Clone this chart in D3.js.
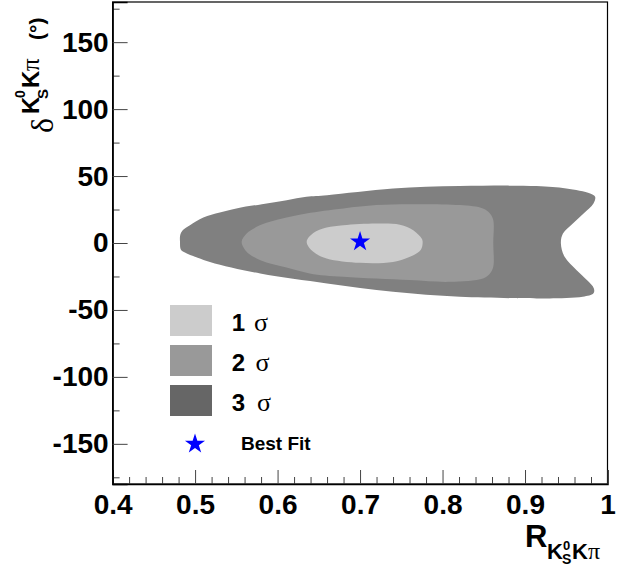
<!DOCTYPE html>
<html>
<head>
<meta charset="utf-8">
<script src="https://cdn.jsdelivr.net/npm/d3@7"></script>
<style>
body { margin: 0; background: #fff; }
svg { display: block; }
text { font-family: "Liberation Sans", Arial, sans-serif; }
text.greek { font-family: "Liberation Serif", "Times New Roman", serif; }
</style>
</head>
<body>
<div id="my-chart"></div>
<script>
var width = 634;
var height = 569;

// contour outlines, [R, delta]
var contour3 = [
  [0.4817, 0.9], [0.482, 5.9], [0.485, 9.6], [0.4938, 13.3], [0.510, 19.1], [0.530, 22.8],
  [0.550, 25.8], [0.581, 29.0], [0.611, 32.0], [0.635, 34.5], [0.660, 35.7], [0.740, 40.7],
  [0.821, 42.5], [0.914, 42.5], [0.950, 40.7], [0.979, 37.0], [0.985, 34.5], [0.983, 29.5],
  [0.971, 22.1], [0.958, 14.6], [0.946, 7.1], [0.9435, -0.3], [0.948, -10.3], [0.9626, -20.3],
  [0.975, -27.7], [0.9835, -33.9], [0.983, -37.6], [0.970, -40.2], [0.930, -41.4], [0.914, -41.4],
  [0.821, -40.2], [0.740, -36.5], [0.660, -30.2], [0.579, -22.8], [0.518, -14.1], [0.490, -7.8],
  [0.483, -5.3]
];
var contour2 = [
  [0.5565, 0.9], [0.5625, 7.1], [0.5747, 12.1], [0.5908, 15.8], [0.611, 19.1], [0.635, 22.1],
  [0.680, 25.8], [0.720, 28.3], [0.7605, 29.0], [0.821, 28.3], [0.849, 25.8], [0.8575, 22.1],
  [0.8615, 17.1], [0.8615, 0], [0.8615, -17.8], [0.8575, -22.7], [0.849, -26.5], [0.809, -29.0],
  [0.7605, -27.7], [0.680, -25.3], [0.639, -22.7], [0.611, -18.3], [0.591, -15.3], [0.5747, -11.5],
  [0.5625, -6.6]
];
var contour1 = [
  [0.6353, 0.9], [0.6433, 7.4], [0.6595, 11.5], [0.6796, 13.3], [0.720, 14.6], [0.7484, 13.7],
  [0.7645, 9.6], [0.7747, 3.4], [0.7759, 0.9], [0.7735, -5.3], [0.7605, -10.3], [0.740, -14.1],
  [0.700, -14.8], [0.6595, -11.5], [0.6433, -6.6]
];
var bestFit = [0.70, 1];

var xTicks = [0.4, 0.5, 0.6, 0.7, 0.8, 0.9, 1.0];
var xTickLabels = ["0.4", "0.5", "0.6", "0.7", "0.8", "0.9", "1"];
var yTicks = [-150, -100, -50, 0, 50, 100, 150];
var legendLabels = ["1", "2", "3"];

var contourColors = ["#cccccc", "#999999", "#808080"];
var legendColors = ["#cccccc", "#999999", "#666666"];

var svg = d3.select("div#my-chart").append("svg")
  .attr("width", width)
  .attr("height", height);

var x = d3.scaleLinear().domain([0.4, 1]).range([112.6, 607.5]);
var y = d3.scaleLinear().domain([-180, 180]).range([484, 2]);

var line = d3.line()
  .x(function (d) { return x(d[0]); })
  .y(function (d) { return y(d[1]); })
  .curve(d3.curveCatmullRomClosed.alpha(0.5));

svg.selectAll("path.contour")
  .data([contour3, contour2, contour1])
  .enter()
  .append("path")
  .attr("class", "contour")
  .attr("d", line)
  .attr("fill", function (d, i) { return contourColors[2 - i]; });

var star = d3.symbol().type(d3.symbolStar).size(125);
svg.append("path")
  .attr("d", star)
  .attr("transform", "translate(" + x(bestFit[0]) + "," + y(bestFit[1]) + ")")
  .attr("fill", "#0000ff");

// frame
svg.append("rect")
  .attr("x", x(0.4)).attr("y", y(180))
  .attr("width", x(1) - x(0.4)).attr("height", y(-180) - y(180))
  .attr("fill", "none").attr("stroke", "#000").attr("stroke-width", 1.2);

// x axis
var xMinor = d3.range(0.42, 1.0, 0.02).filter(function (v) { return Math.abs(v * 10 - Math.round(v * 10)) > 0.01; });
svg.append("g")
  .attr("transform", "translate(0," + y(-180) + ")")
  .call(d3.axisBottom(x).tickValues(xMinor).tickSize(-7).tickFormat(""))
  .call(function (g) { g.select(".domain").remove(); });
var xAxis = svg.append("g")
  .attr("class", "xaxis axis")
  .attr("transform", "translate(0," + y(-180) + ")")
  .call(d3.axisBottom(x).tickValues(xTicks).tickSize(-14).tickPadding(10)
    .tickFormat(function (d, i) { return xTickLabels[i]; }));
xAxis.selectAll("text")
  .style("font-size", "28px").style("font-weight", "bold").attr("fill", "#000");

// y axis
var yMinor = [-175, -125, -75, -25, 25, 75, 125, 175];
svg.append("g")
  .attr("transform", "translate(" + x(0.4) + ",0)")
  .call(d3.axisLeft(y).tickValues(yMinor).tickSize(-7).tickFormat(""))
  .call(function (g) { g.select(".domain").remove(); });
var yAxis = svg.append("g")
  .attr("class", "axis")
  .attr("transform", "translate(" + x(0.4) + ",0)")
  .call(d3.axisLeft(y).tickValues(yTicks).tickSize(-15).tickPadding(4)
    .tickFormat(function (d) { return String(d); }));
yAxis.selectAll("text")
  .style("font-size", "28px").style("font-weight", "bold").attr("fill", "#000");

svg.selectAll(".tick line").attr("stroke", "#444");
svg.selectAll(".domain").attr("stroke", "#000").attr("stroke-width", 1.5);

// x title: R_{K^0_S K pi}
var xt = svg.append("g").attr("transform", "translate(525,547)");
xt.append("text").text("R").style("font-size", "31px").style("font-weight", "bold");
xt.append("text").attr("x", 22).attr("y", 12).text("K").style("font-size", "22px").style("font-weight", "bold");
xt.append("text").attr("x", 38).attr("y", 3).text("0").style("font-size", "13px").style("font-weight", "bold");
xt.append("text").attr("x", 37).attr("y", 17).text("S").style("font-size", "14px").style("font-weight", "bold");
xt.append("text").attr("x", 47).attr("y", 12).text("K").style("font-size", "22px").style("font-weight", "bold");
xt.append("text").attr("class", "greek").attr("x", 63).attr("y", 12).text("\u03c0").style("font-size", "24px");

// y title: delta^{K^0_S K pi} (deg)
var yt = svg.append("g").attr("transform", "translate(53,133) rotate(-90)");
yt.append("text").attr("class", "greek").text("\u03b4").style("font-size", "32px");
yt.append("text").attr("x", 19).attr("y", -14).text("K").style("font-size", "24px").style("font-weight", "bold");
yt.append("text").attr("x", 35).attr("y", -28).text("0").style("font-size", "14px").style("font-weight", "bold");
yt.append("text").attr("x", 34).attr("y", -5).text("S").style("font-size", "15px").style("font-weight", "bold");
yt.append("text").attr("x", 45).attr("y", -14).text("K").style("font-size", "24px").style("font-weight", "bold");
yt.append("text").attr("class", "greek").attr("x", 62).attr("y", -14).text("\u03c0").style("font-size", "25px");
yt.append("text").attr("x", 93).attr("y", -9).text("(\u00b0)").style("font-size", "21px").style("font-weight", "bold");

// legend
var legend = svg.append("g");
legend.selectAll("rect")
  .data(legendLabels)
  .enter()
  .append("rect")
  .attr("x", 170)
  .attr("y", function (d, i) { return 305 + i * 40; })
  .attr("width", 42)
  .attr("height", 31)
  .attr("fill", function (d, i) { return legendColors[i]; });
legend.selectAll("text.lab")
  .data(legendLabels)
  .enter()
  .append("text")
  .attr("class", "lab")
  .attr("x", 245)
  .attr("y", function (d, i) { return 331 + i * 40; })
  .attr("text-anchor", "end")
  .style("font-size", "24px").style("font-weight", "bold")
  .text(function (d) { return d; });
legend.selectAll("text.sig")
  .data(legendLabels)
  .enter()
  .append("text")
  .attr("class", "greek")
  .attr("x", function (d, i) { return 254 + i * 1.5; })
  .attr("y", function (d, i) { return 331 + i * 40; })
  .style("font-size", "26px")
  .text("\u03c3");
legend.append("path")
  .attr("d", star)
  .attr("transform", "translate(195,444)")
  .attr("fill", "#0000ff");
legend.append("text")
  .attr("x", 241).attr("y", 450)
  .style("font-size", "19px").style("font-weight", "bold")
  .text("Best Fit");
</script>
</body>
</html>
